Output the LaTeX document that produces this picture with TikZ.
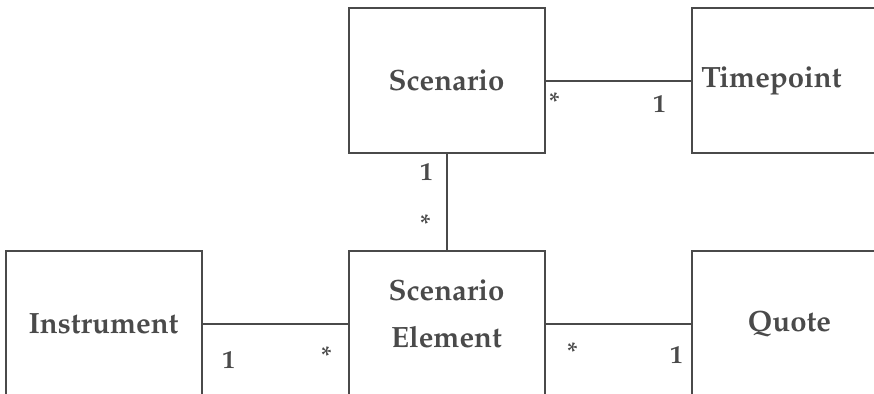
\documentclass[tikz,border=0pt]{standalone}
\usepackage[T1]{fontenc}
\usepackage{mathpazo}
\usepackage{xcolor}
\usepackage{tikz}
\usetikzlibrary{positioning}
\definecolor{scan}{HTML}{4A4A4A}
\tikzset{
	class node/.style={rectangle,draw=scan,line width=1.5pt,text=scan,
		minimum width=147pt,minimum height=109pt,align=center,
		font=\fontsize{22}{35}\selectfont\bfseries},
	assoc/.style={draw=scan,line width=1.5pt},
	mult/.style={text=scan,inner sep=0pt,font=\fontsize{19}{21}\selectfont\bfseries}
}

\begin{document}
\begin{tikzpicture}[node distance=72pt and 108.75pt]
	    \useasboundingbox (-334.9pt,60.4pt) rectangle (320.6pt,-234.4pt);
	    \node [class node] (1) {Scenario};
	    \node [class node,right=of 1] (2) {Timepoint\hspace*{27pt}};
	    \node [class node,below=of 1,text depth=15pt] (3) {Scenario\\Element};
	    \node [class node,left=of 3] (4) {Instrument};
	    \node [class node,right=of 3] (5) {Quote};
	    \draw [assoc] (1) -- node [mult,pos=0.062,yshift=-15.5pt] {*}
	                 node [mult,pos=0.786,yshift=-18pt] {1} (2);
	    \draw [assoc] (1) -- node [mult,pos=0.19,xshift=-15pt] {1}
	                 node [mult,pos=0.70,xshift=-15.75pt,yshift=-1.5pt] {*} (3);
	    \draw [assoc] (4) -- node [mult,pos=0.18,yshift=-27pt] {1}
	                 node [mult,pos=0.855,yshift=-24pt] {*} (3);
	    \draw [assoc] (3) -- node [mult,pos=0.186,yshift=-21pt] {*}
	                 node [mult,pos=0.903,yshift=-23.25pt] {1} (5);
	  \end{tikzpicture}
\end{document}
